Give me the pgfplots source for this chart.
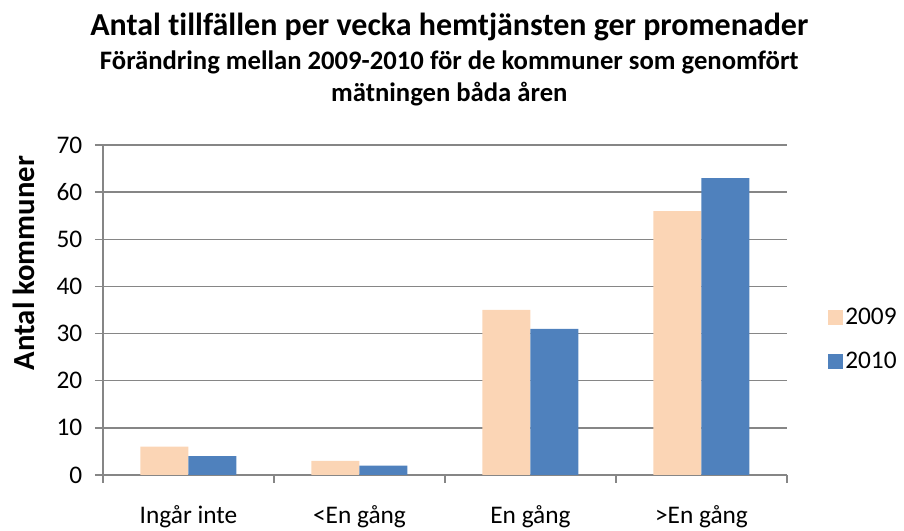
\documentclass[border=0pt]{standalone}
\usepackage{pgfplots}
\pgfplotsset{compat=1.18}
\usepackage{fontspec}
\setmainfont[Ligatures={NoCommon}]{Carlito}
\definecolor{c2009}{HTML}{FBD5B5}
\definecolor{c2010}{HTML}{4F81BD}
\definecolor{gridgray}{HTML}{868686}
\begin{document}
\begin{tikzpicture}
\path[use as bounding box] (0,0) rectangle (678pt,398.25pt);
\node[anchor=base, inner sep=0pt, font=\bfseries\fontsize{24}{28}\selectfont] at (337pt,{(531-36)*0.75pt}) {Antal tillfällen per vecka hemtjänsten ger promenader};
\node[anchor=base, inner sep=0pt, font=\bfseries\fontsize{20}{24}\selectfont] at (337pt,{(531-70)*0.75pt}) {Förändring mellan 2009-2010 för de kommuner som genomfört};
\node[anchor=base, inner sep=0pt, font=\bfseries\fontsize{20}{24}\selectfont] at (337pt,{(531-102)*0.75pt}) {mätningen båda åren};
\begin{axis}[
  at={(77.25pt,42pt)}, anchor=south west,
  scale only axis, width=513pt, height=247.5pt,
  ybar=0pt, bar width=36pt,
  xmin=-0.5, xmax=3.5, ymin=0, ymax=70,
  ytick={0,10,...,70},
  xtick={0,1,2,3},
  xticklabels={Ingår inte,<En gång,En gång,>En gång},
  minor xtick={-0.5,0.5,1.5,2.5,3.5},
  axis x line*=bottom, axis y line*=left,
  axis line style={gridgray, line width=1pt, -},
  ymajorgrids, major grid style={gridgray, line width=1pt},
  major x tick style={draw=none},
  minor x tick style={gridgray, line width=1pt},
  major y tick style={gridgray, line width=1pt},
  tick align=outside, major tick length=6pt, minor tick length=6pt,
  /pgf/number format/assume math mode=true,
  ticklabel style={font=\fontsize{19}{22}\selectfont},
  xticklabel style={anchor=base, yshift=-30.5pt},
  yticklabel style={xshift=-6pt},
  ylabel={Antal kommuner},
  ylabel style={at={(axis description cs:-0.116,0.642)}, anchor=center, font=\bfseries\fontsize{23}{28}\selectfont},
  legend style={draw=none, fill=none, inner sep=0pt, at={(1.06,0.412)}, anchor=west,
    font=\fontsize{19}{22}\selectfont, row sep=16.25pt, legend cell align=left,
    nodes={inner sep=1.5pt}},
  legend image code/.code={\fill[#1] (0pt,-5.7pt) rectangle (11.25pt,5.55pt);},
]
\addplot[fill=c2009, draw=none] coordinates {(0,6) (1,3) (2,35) (3,56)};
\addplot[fill=c2010, draw=none] coordinates {(0,4) (1,2) (2,31) (3,63)};
\legend{2009,2010}
\end{axis}
\end{tikzpicture}
\end{document}
